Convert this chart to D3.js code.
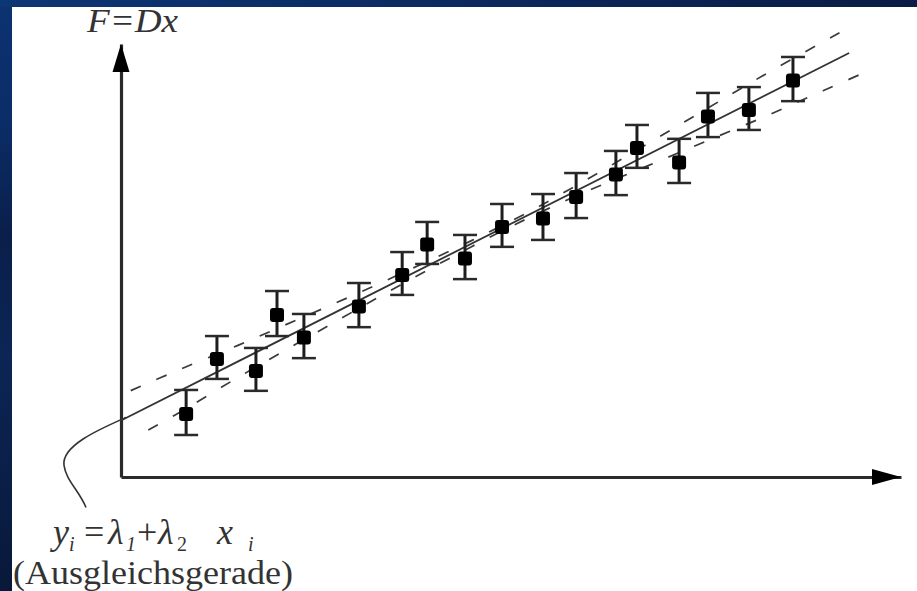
<!DOCTYPE html>
<html>
<head>
<meta charset="utf-8">
<script src="https://cdn.jsdelivr.net/npm/d3@7"></script>
<style>
  html, body { margin: 0; padding: 0; overflow: hidden; background: #0a2455; }
  svg { display: block; }
  .serif { font-family: "Liberation Serif", "DejaVu Serif", "Times New Roman", serif; }
</style>
</head>
<body>
<script>
// ---- data (data units) ----
const xValues = [1.67, 2.46, 3.46, 4.00, 4.69, 6.10, 7.21, 7.85, 8.82, 9.77, 10.82, 11.67, 12.69, 13.23, 14.31, 15.05, 16.10, 17.23];
const yValues = [2.98, 5.52, 4.97, 7.55, 6.51, 7.94, 9.40, 10.81, 10.16, 11.62, 12.01, 13.00, 14.04, 15.27, 14.60, 16.72, 17.02, 18.38];
const yErrors = [1.04, 0.99, 0.99, 1.04, 1.02, 1.02, 0.99, 0.97, 1.02, 0.99, 1.06, 1.04, 1.02, 0.99, 1.02, 1.02, 0.99, 1.02];

// fitted line y = lambda1 + lambda2 * x, drawn between these x values
const fitParams = [2.61, 0.909];
const fitRange = [0, 18.67];

// confidence band (dashed)
const upperBandX = [0.25, 1.5, 3.0, 4.5, 6.0, 7.5, 9.0, 10.5, 12.0, 13.5, 15.0, 16.5, 18.5];
const upperBandY = [3.99, 4.96, 6.08, 7.25, 8.43, 9.66, 10.93, 12.29, 13.80, 15.39, 16.99, 18.58, 20.60];
const lowerBandX = [0.7, 1.5, 3.0, 4.5, 6.0, 7.5, 9.0, 10.5, 12.0, 13.5, 15.0, 16.5, 18.0, 19.0];
const lowerBandY = [2.17, 2.98, 4.60, 6.15, 7.69, 9.20, 10.65, 12.01, 13.24, 14.37, 15.51, 16.64, 17.84, 18.63];

const axisDomain = [0, 20];
const yAxisLabel = "F=Dx";
const noteLabel = "(Ausgleichsgerade)";
// equation pieces: [text, isSubscript, isItalic]
const eqPieces = [["y", 0, 1], ["i", 1, 1], ["=", 0, 0], ["λ", 0, 1], ["1", 1, 1], ["+", 0, 0], ["λ", 0, 1], ["2", 1, 0], ["x", 0, 1], ["i", 1, 1]];

// ---- drawing ----
const W = 917, H = 591;
const svg = d3.select("body").append("svg").attr("width", W).attr("height", H);

const defs = svg.append("defs");
const gv = defs.append("linearGradient").attr("id", "bgv").attr("x1", 0).attr("y1", 0).attr("x2", 0).attr("y2", 1);
[["0%", "#0c3270"], ["20%", "#0b2d68"], ["40%", "#0a1f4a"], ["60%", "#0c2554"], ["80%", "#0a1f48"], ["100%", "#081838"]]
  .forEach(([o, c]) => gv.append("stop").attr("offset", o).attr("stop-color", c));
const gh = defs.append("linearGradient").attr("id", "bgh").attr("x1", 0).attr("y1", 0).attr("x2", 1).attr("y2", 0);
[["0%", "#0d3674"], ["40%", "#0b2c64"], ["100%", "#0a1c44"]]
  .forEach(([o, c]) => gh.append("stop").attr("offset", o).attr("stop-color", c));

svg.append("rect").attr("width", W).attr("height", H).attr("fill", "url(#bgv)");
svg.append("rect").attr("width", W).attr("height", 7).attr("fill", "url(#bgh)");
svg.append("rect").attr("x", 12).attr("y", 7).attr("width", W - 12).attr("height", H - 7).attr("fill", "#ffffff");

const x = d3.scaleLinear().domain(axisDomain).range([121, 901]);
const y = d3.scaleLinear().domain(axisDomain).range([477, 44]);

const ink = "#2a2a2a";

// axes (domain lines only, no ticks)
const yAx = svg.append("g").attr("transform", `translate(${x(0)},0)`)
  .call(d3.axisLeft(y).tickValues([]).tickSizeOuter(0));
yAx.select(".domain").attr("stroke", ink).attr("stroke-width", 3.2);
const xAx = svg.append("g").attr("transform", `translate(0,${y(0)})`)
  .call(d3.axisBottom(x).tickValues([]).tickSizeOuter(0));
xAx.select(".domain").attr("stroke", ink).attr("stroke-width", 3.2);

// arrowheads
const x0 = x(0), yTop = y(axisDomain[1]);
svg.append("path")
  .attr("d", `M${x0},${yTop} L${x0 + 8.5},${yTop + 28} L${x0 - 8.5},${yTop + 28} Z`)
  .attr("fill", "#000");
const y0 = y(0), xEnd = x(axisDomain[1]);
svg.append("path")
  .attr("d", `M${xEnd},${y0} L${xEnd - 29},${y0 + 8} L${xEnd - 29},${y0 - 8} Z`)
  .attr("fill", "#000");

// confidence band (dashed)
const bandLine = d3.line().x(d => x(d[0])).y(d => y(d[1])).curve(d3.curveCatmullRom.alpha(0.5));
svg.append("path")
  .datum(upperBandX.map((v, i) => [v, upperBandY[i]]))
  .attr("d", bandLine)
  .attr("fill", "none").attr("stroke", "#3a3a3a").attr("stroke-width", 1.7)
  .attr("stroke-dasharray", "11,17");
svg.append("path")
  .datum(lowerBandX.map((v, i) => [v, lowerBandY[i]]))
  .attr("d", bandLine)
  .attr("fill", "none").attr("stroke", "#3a3a3a").attr("stroke-width", 1.7)
  .attr("stroke-dasharray", "11,17");

// fitted line
const fit = v => fitParams[0] + fitParams[1] * v;
svg.append("line")
  .attr("x1", x(fitRange[0])).attr("y1", y(fit(fitRange[0])))
  .attr("x2", x(fitRange[1])).attr("y2", y(fit(fitRange[1])))
  .attr("stroke", "#333").attr("stroke-width", 1.8);

// leader curve from intercept to the label
const ix = x(0), iy = y(fit(0));
svg.append("path")
  .attr("d", `M${ix + 5},${iy - 3} C${ix - 20},${iy + 8} ${ix - 60},${iy + 25} ${ix - 57},${iy + 45} C${ix - 55},${iy + 60} ${ix - 42},${iy + 70} ${ix - 35},${iy + 87}`)
  .attr("fill", "none").attr("stroke", "#333").attr("stroke-width", 1.6);

// error bars and markers
const pts = xValues.map((v, i) => ({ x: v, y: yValues[i], e: yErrors[i] }));
const g = svg.append("g");
g.selectAll(".eb").data(pts).join("line")
  .attr("x1", d => x(d.x)).attr("x2", d => x(d.x))
  .attr("y1", d => y(d.y + d.e)).attr("y2", d => y(d.y - d.e))
  .attr("stroke", "#1e1e1e").attr("stroke-width", 3);
g.selectAll(".capT").data(pts).join("line")
  .attr("x1", d => x(d.x) - 12).attr("x2", d => x(d.x) + 12)
  .attr("y1", d => y(d.y + d.e)).attr("y2", d => y(d.y + d.e))
  .attr("stroke", "#2a2a2a").attr("stroke-width", 2.5);
g.selectAll(".capB").data(pts).join("line")
  .attr("x1", d => x(d.x) - 12).attr("x2", d => x(d.x) + 12)
  .attr("y1", d => y(d.y - d.e)).attr("y2", d => y(d.y - d.e))
  .attr("stroke", "#2a2a2a").attr("stroke-width", 2.5);
g.selectAll(".mk").data(pts).join("rect")
  .attr("x", d => x(d.x) - 7).attr("y", d => y(d.y) - 5.5)
  .attr("width", 14).attr("height", 14).attr("rx", 3)
  .attr("fill", "#000");

// labels
svg.append("text").attr("class", "serif")
  .attr("x", 87).attr("y", 32)
  .attr("font-style", "italic")
  .attr("font-size", 34).attr("fill", "#333")
  .attr("textLength", 91).attr("lengthAdjust", "spacingAndGlyphs")
  .text(yAxisLabel);

// equation: each piece placed on its own x position
const eqX = [53, 69, 84, 108, 126, 137, 158, 177, 217, 248];
const eq = svg.append("text").attr("class", "serif")
  .attr("y", 544).attr("font-size", 36).attr("fill", "#333");
eqPieces.forEach(([t, sub, it], i) => {
  eq.append("tspan")
    .attr("x", eqX[i]).attr("y", sub ? 551 : 544)
    .attr("font-size", sub ? 20 : 36)
    .attr("font-style", it ? "italic" : "normal")
    .text(t);
});

svg.append("text").attr("class", "serif")
  .attr("x", 13).attr("y", 584)
  .attr("font-size", 34).attr("fill", "#333")
  .attr("textLength", 280).attr("lengthAdjust", "spacingAndGlyphs")
  .text(noteLabel);
</script>
</body>
</html>
